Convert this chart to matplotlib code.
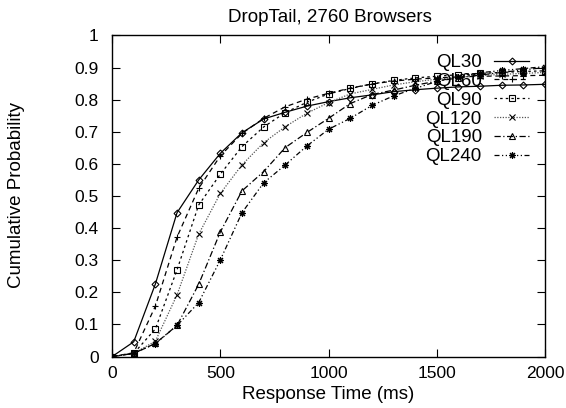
import matplotlib
matplotlib.use("Agg")
import matplotlib.pyplot as plt

plt.rcParams['font.family'] = ['Liberation Sans', 'DejaVu Sans']

# response time (ms)
times = [0, 100, 200, 300, 400, 500, 600, 700, 800, 900, 1000,
         1100, 1200, 1300, 1400, 1500, 1600, 1700, 1800, 1900, 2000]

ql30 = [0, .046, .226, .448, .550, .633, .697, .740, .761, .780, .794,
        .806, .815, .825, .831, .836, .840, .842, .845, .846, .848]
ql60 = [0, .012, .157, .372, .524, .625, .695, .742, .778, .802, .820,
        .836, .849, .858, .864, .868, .871, .873, .874, .875, .876]
ql90 = [0, .010, .086, .270, .472, .568, .654, .715, .760, .792, .818,
        .835, .849, .860, .868, .873, .878, .882, .885, .888, .890]
ql120 = [0, .010, .048, .192, .381, .508, .597, .666, .716, .758, .791,
         .818, .832, .846, .856, .864, .870, .875, .879, .882, .885]
ql190 = [0, .010, .041, .097, .225, .388, .516, .576, .651, .698, .742,
         .788, .816, .830, .845, .858, .868, .877, .885, .893, .900]
ql240 = [0, .010, .040, .097, .168, .301, .448, .541, .597, .656, .708,
         .742, .782, .812, .835, .857, .872, .884, .891, .897, .903]

labels = ['QL30', 'QL60', 'QL90', 'QL120', 'QL190', 'QL240']
xticks = [0, 500, 1000, 1500, 2000]
yticks = [0, .1, .2, .3, .4, .5, .6, .7, .8, .9, 1]
ytick_labels = ['0', '0.1', '0.2', '0.3', '0.4', '0.5', '0.6', '0.7', '0.8', '0.9', '1']

fig = plt.figure(figsize=(5.66, 4.08), dpi=100)
ax = fig.add_axes([0.198, 0.126, 0.765, 0.787])

series = [ql30, ql60, ql90, ql120, ql190, ql240]
markers = ['D', '+', 's', 'x', '^', (8, 2, 0)]
msizes = [3.5, 5, 4.5, 5, 4.5, 5]
dashes = [None, (4, 3), (2, 2.5), (1, 1.2), (5, 2, 1, 2), (4, 2, 1, 2, 1, 2)]
lcolors = ['black', 'black', 'black', '#555555', 'black', 'black']

for ys, lab, m, ms, d, c in zip(series, labels, markers, msizes, dashes, lcolors):
    line, = ax.plot(times, ys, color=c, lw=0.9, marker=m, ms=ms, mfc='none',
                    mec='black', mew=0.8, label=lab)
    if d is not None:
        line.set_dashes(d)

ax.set_xlim(0, 2000)
ax.set_ylim(0, 1)
ax.set_xticks(xticks)
ax.set_yticks(yticks)
ax.set_yticklabels(ytick_labels)
ax.tick_params(direction='in', length=6, width=0.8, labelsize=12.5,
               top=True, right=True)
ax.tick_params(axis='y', pad=9.5)
ax.tick_params(axis='x', pad=7)
for s in ax.spines.values():
    s.set_linewidth(1)

ax.set_xlabel('Response Time (ms)', fontsize=13.5)
ax.xaxis.set_label_coords(0.5, -0.092)
ax.set_ylabel('Cumulative Probability', fontsize=13.5)
ax.yaxis.set_label_coords(-0.201, 0.503)
ax.text(0.503, 1.042, 'DropTail, 2760 Browsers', transform=ax.transAxes,
        ha='center', va='baseline', fontsize=13.5)

ax.legend(loc='upper right', bbox_to_anchor=(0.963, 0.942), frameon=False,
          markerfirst=False, fontsize=13.5, handlelength=1.87,
          handletextpad=0.65, labelspacing=0.09, borderpad=0, borderaxespad=0)

fig.savefig('out.png', dpi=100)
